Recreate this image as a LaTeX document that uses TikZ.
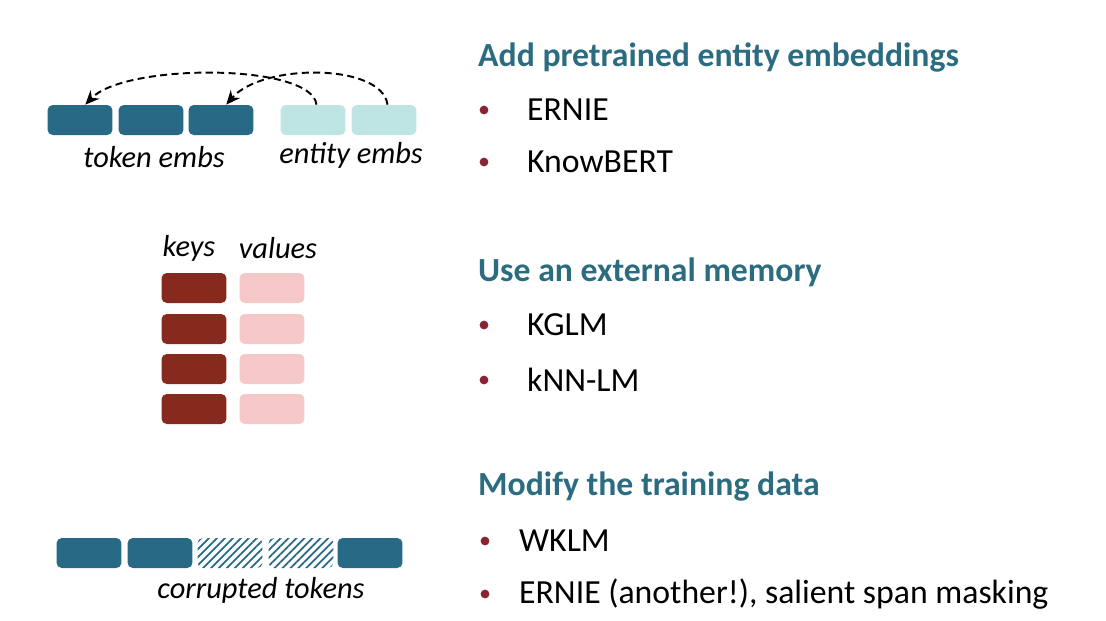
\documentclass[tikz,border=0pt]{standalone}
\usepackage{fontspec}
\setmainfont{Carlito}
\usetikzlibrary{patterns.meta,arrows.meta}
\definecolor{tokteal}{HTML}{286A85}
\definecolor{entteal}{HTML}{BEE5E4}
\definecolor{keyred}{HTML}{862A1E}
\definecolor{valpink}{HTML}{F5C8C8}
\definecolor{headteal}{HTML}{2C6C80}
\definecolor{bulletred}{HTML}{8C2332}
\begin{document}
\begin{tikzpicture}[
    x=0.02cm, y=-0.02cm,
    emb/.style={
        rectangle,
        rounded corners=3pt,
        minimum width=1.3cm,
        minimum height=0.6cm,
        inner sep=0pt
    },
    tok/.style={emb, fill=tokteal},
    ent/.style={emb, fill=entteal},
    key/.style={emb, fill=keyred},
    val/.style={emb, fill=valpink},
    masked/.style={emb, pattern={Lines[angle=45,distance=3.2pt,line width=1pt]}, pattern color=tokteal},
    lbl/.style={font=\fontsize{17.3}{20}\selectfont\itshape},
    head/.style={anchor=west, text=headteal, font=\fontsize{19.2}{23}\selectfont\bfseries},
    item/.style={anchor=west, font=\fontsize{19.2}{23}\selectfont},
    dot/.style={circle, fill=bulletred, inner sep=0pt, minimum size=5pt},
    link/.style={-{Stealth[length=8pt,width=7pt]}, dash pattern=on 4pt off 2.5pt, line width=1.1pt}
]
\useasboundingbox (0,0) rectangle (1106,620);

% Entity embeddings
\node[tok] (t1) at (80,120) {};
\node[tok] (t2) at (151,120) {};
\node[tok] (t3) at (221,120) {};
\node[ent] (e1) at (313,120) {};
\node[ent] (e2) at (384,120) {};
\node[lbl] (tlbl) at (154,157) {token embs};
\node[lbl] (elbl) at (351,155) {entity embs};

\draw[link] ([xshift=2]e1.north) .. controls (312,63) and (125,63) .. ([xshift=3]t1.north);
\draw[link] ([xshift=2]e2.north) .. controls (382,63) and (262,63) .. ([xshift=3]t3.north);

% External memory
\node[lbl] (klbl) at (189,248) {keys};
\node[lbl] (vlbl) at (278,248) {values};
\node[key] (k1) at (194,288) {};
\node[key] (k2) at (194,329) {};
\node[key] (k3) at (194,369) {};
\node[key] (k4) at (194,409) {};
\node[val] (v1) at (272,288) {};
\node[val] (v2) at (272,329) {};
\node[val] (v3) at (272,369) {};
\node[val] (v4) at (272,409) {};

% Training data
\node[tok] (c1) at (89,553) {};
\node[tok] (c2) at (160,553) {};
\node[masked] (c3) at (230,553) {};
\node[masked] (c4) at (301,553) {};
\node[tok] (c5) at (370,553) {};
\node[lbl] (clbl) at (261,590) {corrupted tokens};

% Text
\node[head] (h1) at (472,57) {Add pretrained entity embeddings};
\node[dot] (b1) at (484,110) {};
\node[item] (i1) at (521,110) {ERNIE};
\node[dot] (b2) at (484,162) {};
\node[item] (i2) at (521,162) {KnowBERT};

\node[head] (h2) at (472,272) {Use an external memory};
\node[dot] (b3) at (484,325) {};
\node[item] (i3) at (521,325) {KGLM};
\node[dot] (b4) at (484,380) {};
\node[item] (i4) at (521,380) {kNN-LM};

\node[head] (h3) at (472,487) {Modify the training data};
\node[dot] (b5) at (485,541) {};
\node[item] (i5) at (513,541) {WKLM};
\node[dot] (b6) at (485,594) {};
\node[item] (i6) at (513,594) {ERNIE (another!), salient span masking};

\end{tikzpicture}
\end{document}
